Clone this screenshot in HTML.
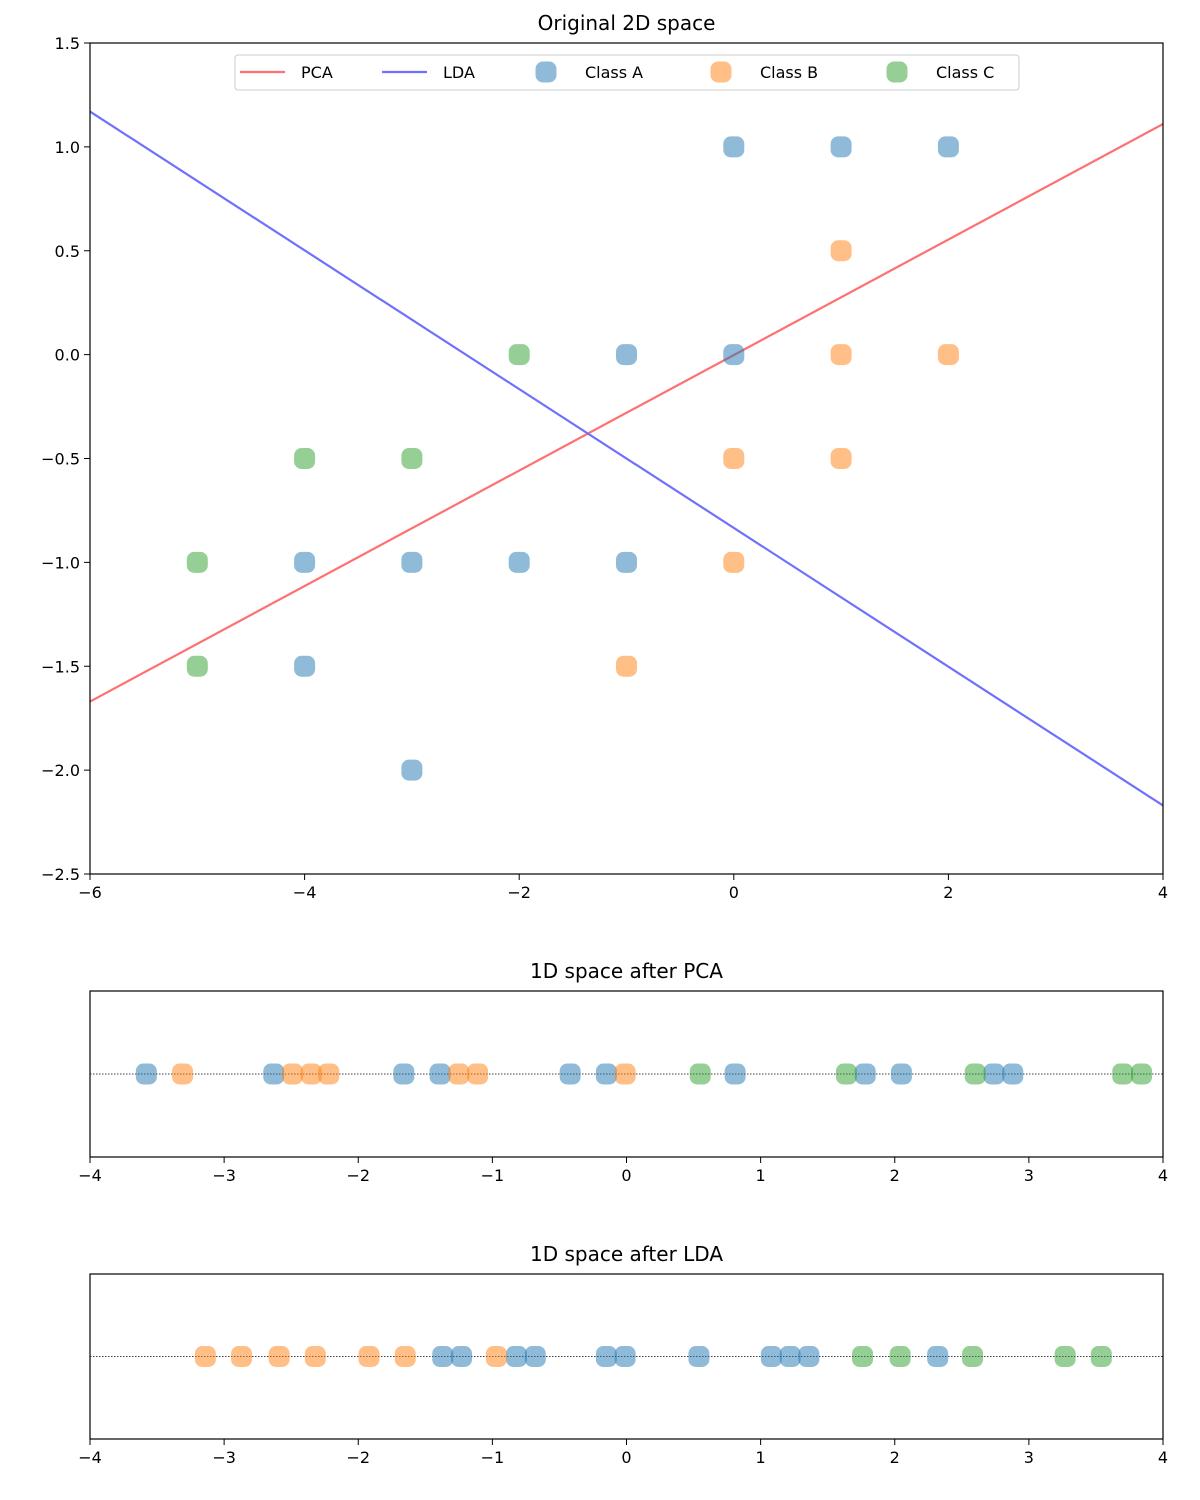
<!DOCTYPE html>
<html><head><meta charset="utf-8"><style>
body{margin:0;background:#fff}
svg{display:block;font-family:"DejaVu Sans","Liberation Sans",sans-serif}
</style></head><body>
<svg id="c" width="1200" height="1500" viewBox="0 0 1200 1500" xmlns="http://www.w3.org/2000/svg"></svg>
<script>
// Top plot data
const classAx=[0,1,2,-1,0,-4,-3,-2,-1,-4,-3];
const classAy=[1,1,1,0,0,-1,-1,-1,-1,-1.5,-2];
const classBx=[1,1,2,0,1,0,-1];
const classBy=[0.5,0,0,-0.5,-0.5,-1,-1.5];
const classCx=[-2,-4,-3,-5,-5];
const classCy=[0,-0.5,-0.5,-1,-1.5];
const pcaLine=[[-6,-1.67],[4,1.11]];
const ldaLine=[[-6,1.17],[4,-2.17]];
const topXTicks=[-6,-4,-2,0,2,4];
const topYTicks=[1.5,1.0,0.5,0.0,-0.5,-1.0,-1.5,-2.0,-2.5];
// 1D projections
const pcaA=[-3.58,-2.63,-1.66,-1.39,-0.42,-0.15,0.81,1.78,2.05,2.74,2.88];
const pcaB=[-3.31,-2.49,-2.35,-2.22,-1.25,-1.11,-0.01];
const pcaC=[0.55,1.64,2.60,3.70,3.84];
const ldaA=[-1.37,-1.23,-0.82,-0.68,-0.15,-0.01,0.54,1.08,1.22,1.36,2.32];
const ldaB=[-3.14,-2.87,-2.59,-2.32,-1.92,-1.65,-0.97];
const ldaC=[1.76,2.04,2.58,3.27,3.54];
const oneDTicks=[-4,-3,-2,-1,0,1,2,3,4];

const NS="http://www.w3.org/2000/svg";
const svg=document.getElementById('c');
function el(t,a,p){const e=document.createElementNS(NS,t);for(const k in a)e.setAttribute(k,a[k]);(p||svg).appendChild(e);return e;}
function fmt(v,d){let s=v.toFixed(d);return v<0?'\u2212'+s.slice(1):s;}
const COL={A:'#1f77b4',B:'#ff7f0e',C:'#2ca02c'};
function marker(x,y,c,name){
  const r=el('rect',{x:x-10.5,y:y-10.5,width:21,height:21,rx:7.5,fill:c,'fill-opacity':0.5});
  
  
}
function frame(L,T,R,B,name){
  const f=el('rect',{x:L,y:T,width:R-L,height:B-T,fill:'none',stroke:'#000','stroke-width':1.2});
  
  
}
function title(x,y,s,name){const t=el('text',{x:x,y:y,'text-anchor':'middle','font-size':20});t.textContent=s;
  
  }

// ---- top
const L=90,R=1163,T=43,B=874;
const sx=v=>L+(v+6)/10*(R-L), sy=v=>T+(1.5-v)/4*(B-T);
title((L+R)/2,30,'Original 2D space','top-title');
const cp=el('clipPath',{id:'cp'});el('rect',{x:L,y:T,width:R-L,height:B-T},cp);
const pl=el('line',{x1:sx(pcaLine[0][0]),y1:sy(pcaLine[0][1]),x2:sx(pcaLine[1][0]),y2:sy(pcaLine[1][1]),stroke:'#ff7070','stroke-width':2.2,'clip-path':'url(#cp)'});


const ll=el('line',{x1:sx(ldaLine[0][0]),y1:sy(ldaLine[0][1]),x2:sx(ldaLine[1][0]),y2:sy(ldaLine[1][1]),stroke:'#7070ff','stroke-width':2.2,'clip-path':'url(#cp)'});


classAx.forEach((x,i)=>marker(sx(x),sy(classAy[i]),COL.A,'class-a-point'));
classBx.forEach((x,i)=>marker(sx(x),sy(classBy[i]),COL.B,'class-b-point'));
classCx.forEach((x,i)=>marker(sx(x),sy(classCy[i]),COL.C,'class-c-point'));
frame(L,T,R,B,'top-axes');
topXTicks.forEach(v=>{el('line',{x1:sx(v),x2:sx(v),y1:B,y2:B+6,stroke:'#000'});
  const t=el('text',{x:sx(v),y:B+24,'text-anchor':'middle','font-size':16});t.textContent=fmt(v,0);
  
  });
topYTicks.forEach(v=>{el('line',{x1:L-6,x2:L,y1:sy(v),y2:sy(v),stroke:'#000'});
  const t=el('text',{x:L-10,y:sy(v)+6,'text-anchor':'end','font-size':16});t.textContent=fmt(v,1);
  
  });
// legend
const lg=el('g',{});


el('rect',{x:235,y:55,width:784,height:35,rx:3,fill:'#fff','fill-opacity':0.8,stroke:'#ccc'},lg);
const items=[['line','#ff7070','PCA',240],['line','#7070ff','LDA',382],['m',COL.A,'Class A',546],['m',COL.B,'Class B',721],['m',COL.C,'Class C',897]];
items.forEach(it=>{
  if(it[0]==='line'){el('line',{x1:it[3],x2:it[3]+45,y1:72,y2:72,stroke:it[1],'stroke-width':2.2},lg);}
  else{el('rect',{x:it[3]-10.5,y:61.5,width:21,height:21,rx:7.5,fill:it[1],'fill-opacity':0.5},lg);}
  const tx=it[0]==='line'?it[3]+61:it[3]+39;
  const t=el('text',{x:tx,y:78,'font-size':16},lg);t.textContent=it[2];
  
  
});

// ---- 1D plots
function oneD(T2,B2,A,Bv,C,ttl,nm){
  const sx2=v=>L+(v+4)/8*(R-L);const yc=T2+(B2-T2)/2;
  title((L+R)/2,T2-13,ttl,nm+'-title');
  el('line',{x1:L,x2:R,y1:yc,y2:yc,stroke:'#000','stroke-width':0.8,'stroke-dasharray':'1.5,1.5'});
  A.forEach(v=>marker(sx2(v),yc,COL.A,'class-a-point'));
  Bv.forEach(v=>marker(sx2(v),yc,COL.B,'class-b-point'));
  C.forEach(v=>marker(sx2(v),yc,COL.C,'class-c-point'));
  frame(L,T2,R,B2,nm+'-axes');
  oneDTicks.forEach(v=>{el('line',{x1:sx2(v),x2:sx2(v),y1:B2,y2:B2+6,stroke:'#000'});
    const t=el('text',{x:sx2(v),y:B2+24,'text-anchor':'middle','font-size':16});t.textContent=fmt(v,0);
    
    });
}
oneD(991,1157,pcaA,pcaB,pcaC,'1D space after PCA','pca');
oneD(1274,1439,ldaA,ldaB,ldaC,'1D space after LDA','lda');
</script>
</body></html>
